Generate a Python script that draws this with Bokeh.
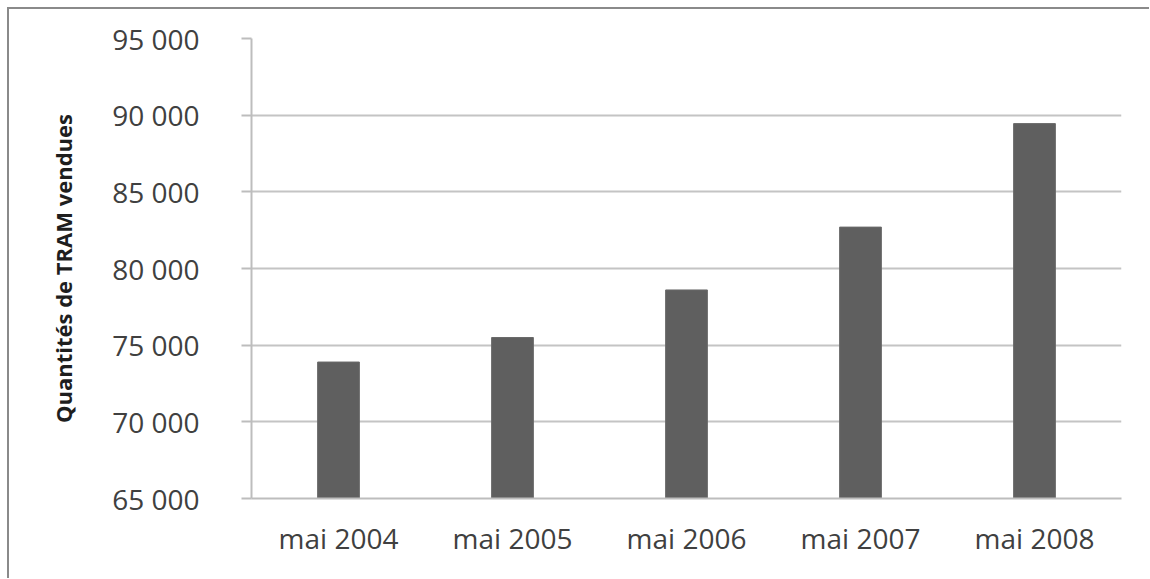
from bokeh.plotting import figure
from bokeh.models import FixedTicker
from bokeh.embed import file_html
from bokeh.resources import INLINE

categories = ["mai 2004", "mai 2005", "mai 2006", "mai 2007", "mai 2008"]
quantities = [73900, 75500, 78600, 82700, 89450]
y_ticks = [65000, 70000, 75000, 80000, 85000, 90000, 95000]
y_tick_labels = ["65 000", "70 000", "75 000", "80 000", "85 000", "90 000", "95 000"]
y_title = "Quantités de TRAM vendues"

FONT = "Open Sans"

p = figure(
    x_range=categories, y_range=(65000, 95000),
    width=1142, height=571,
    output_backend="svg", toolbar_location=None,
    min_border_left=242, min_border_right=30, min_border_top=29, min_border_bottom=82,
)
p.styles = {"border-left": "2px solid #8a8a8a", "border-top": "2px solid #8a8a8a",
            "box-sizing": "border-box", "margin-left": "7px", "margin-top": "7px"}
p.outline_line_color = None
p.background_fill_color = "white"
p.border_fill_color = "white"

p.vbar(x=categories, top=quantities, bottom=65000, width=0.24,
       fill_color="#5f5f5f", line_color="#6a6a6a", line_width=1)

# y axis
p.yaxis.ticker = FixedTicker(ticks=y_ticks)
p.yaxis.major_label_overrides = {t: l for t, l in zip(y_ticks, y_tick_labels)}
p.yaxis.axis_label = y_title
p.yaxis.axis_label_text_font = FONT
p.yaxis.axis_label_text_font_style = "bold"
p.yaxis.axis_label_text_font_size = "22px"
p.yaxis.axis_label_text_color = "#1e1e1e"
p.yaxis.axis_label_standoff = 31
p.yaxis.major_label_text_font = FONT
p.yaxis.major_label_text_font_size = "28px"
p.yaxis.major_label_text_color = "#404040"
p.yaxis.major_label_standoff = 42
p.yaxis.axis_line_color = "#bdbdbd"
p.yaxis.axis_line_width = 2
p.yaxis.major_tick_line_color = "#bdbdbd"
p.yaxis.major_tick_line_width = 2
p.yaxis.major_tick_out = 10
p.yaxis.major_tick_in = 0
p.yaxis.minor_tick_line_color = None

# x axis
p.xaxis.major_label_text_font = FONT
p.xaxis.major_label_text_font_size = "28px"
p.xaxis.major_label_text_color = "#404040"
p.xaxis.major_label_standoff = 14
p.xaxis.axis_line_color = "#bdbdbd"
p.xaxis.axis_line_width = 2
p.xaxis.major_tick_line_color = None
p.xaxis.minor_tick_line_color = None

# grid
p.xgrid.grid_line_color = None
p.ygrid.grid_line_color = "#c4c4c4"
p.ygrid.grid_line_width = 2

open("out.html", "w").write(file_html(p, INLINE))
